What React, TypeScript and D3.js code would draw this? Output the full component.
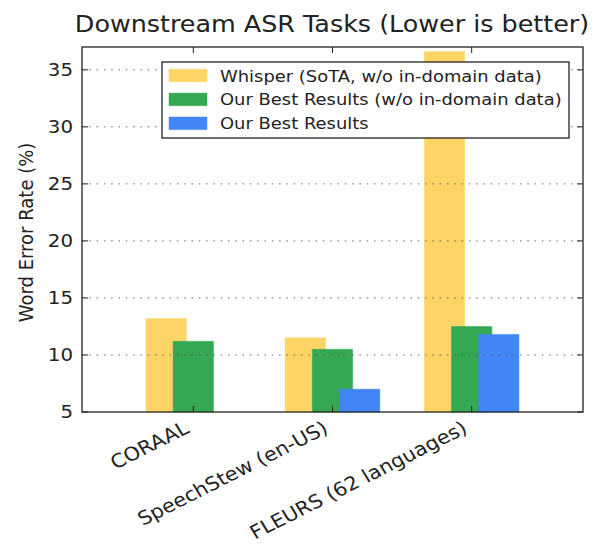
import React from "react";
import * as d3 from "d3";

const categories = ["CORAAL", "SpeechStew (en-US)", "FLEURS (62 languages)"];
const whisperValues = [13.2, 11.5, 36.6];
const bestNoInDomainValues = [11.2, 10.5, 12.5];
const bestValues: (number | null)[] = [null, 7.0, 11.8];
const seriesNames = [
  "Whisper (SoTA, w/o in-domain data)",
  "Our Best Results (w/o in-domain data)",
  "Our Best Results",
];
const seriesColors = ["#FCD566", "#34A853", "#4285F4"];
const yTicks = [5, 10, 15, 20, 25, 30, 35];
const titleText = "Downstream ASR Tasks (Lower is better)";
const yLabelText = "Word Error Rate (%)";

const W = 595;
const H = 547;
const plot = { left: 82, right: 583, top: 47, bottom: 412 };
const SX = 1.1; // horizontal stretch of text
const FONT = "DejaVu Sans, Verdana, sans-serif";

export default function App() {
  const x = d3.scaleLinear().domain([-0.8, 2.8]).range([plot.left, plot.right]);
  const y = d3.scaleLinear().domain([5, 37]).range([plot.bottom, plot.top]);
  const barW = 0.29;
  const offsets = [-0.195, 0, 0.195];
  const series = [whisperValues, bestNoInDomainValues, bestValues];
  const tickLen = 6;

  return (
    <svg width={W} height={H} style={{ position: "absolute", left: 0, top: 0, background: "#fff" }} fontFamily={FONT}>
      <rect x={0} y={0} width={W} height={H} fill="#fff" />
      {/* bars */}
      {series.map((vals, si) =>
        vals.map((v, ci) =>
          v == null ? null : (
            <rect
              key={`b${si}-${ci}`}
              x={x(ci + offsets[si] - barW / 2)}
              y={y(v)}
              width={x(barW) - x(0)}
              height={y(5) - y(v)}
              fill={seriesColors[si]}
              stroke={seriesColors[si]}
              strokeOpacity={0.45}
              strokeWidth={1}
            />
          )
        )
      )}
      {/* grid */}
      {yTicks.filter((t) => t > 5).map((t) => (
        <line
          key={`g${t}`}
          x1={plot.left}
          x2={plot.right}
          y1={y(t)}
          y2={y(t)}
          stroke="#555"
          strokeWidth={0.9}
          strokeDasharray="1.5,5.8"
        />
      ))}
      {/* ticks y */}
      {yTicks.map((t) => (
        <g key={`ty${t}`}>
          <line x1={plot.left} x2={plot.left + tickLen} y1={y(t)} y2={y(t)} stroke="#222" strokeWidth={1} />
          <line x1={plot.right} x2={plot.right - tickLen} y1={y(t)} y2={y(t)} stroke="#222" strokeWidth={1} />
          <text
            transform={`translate(${plot.left - 9},${y(t)}) scale(${SX},1)`}
            textAnchor="end"
            dy="0.36em"
            fontSize={18}
            fill="#222"
          >
            {t}
          </text>
        </g>
      ))}
      {/* ticks x */}
      {categories.map((c, i) => (
        <g key={`tx${i}`}>
          <line x1={x(i)} x2={x(i)} y1={plot.bottom} y2={plot.bottom - tickLen} stroke="#222" strokeWidth={1} />
          <line x1={x(i)} x2={x(i)} y1={plot.top} y2={plot.top + tickLen} stroke="#222" strokeWidth={1} />
          <text
            transform={`translate(${x(i) - 3},${plot.bottom + 20}) scale(${SX},1) rotate(-29)`}
            textAnchor="end"
            fontSize={19}
            fill="#222"
          >
            {c}
          </text>
        </g>
      ))}
      {/* frame */}
      <rect
        x={plot.left}
        y={plot.top}
        width={plot.right - plot.left}
        height={plot.bottom - plot.top}
        fill="none"
        stroke="#222"
        strokeWidth={1.3}
      />
      {/* title */}
      <text
        transform={`translate(${(plot.left + plot.right) / 2 - 0.5},31.5) scale(1.1,1)`}
        textAnchor="middle"
        fontSize={23.1}
        fill="#222"
      >
        {titleText}
      </text>
      {/* y label */}
      <text
        transform={`translate(33,${(plot.top + plot.bottom) / 2 + 3}) scale(${SX},1) rotate(-90)`}
        textAnchor="middle"
        fontSize={18}
        fill="#222"
      >
        {yLabelText}
      </text>
      {/* legend */}
      <g>
        <rect x={162} y={62} width={407} height={76} fill="#fff" stroke="#111" strokeWidth={1.2} />
        {seriesNames.map((n, i) => {
          const cy = 75.5 + i * 23.9;
          return (
            <g key={`l${i}`}>
              <rect
                x={169}
                y={cy - 6.3}
                width={38}
                height={12.6}
                fill={seriesColors[i]}
                stroke={seriesColors[i]}
                strokeOpacity={0.45}
              />
              <text transform={`translate(220,${cy + 6}) scale(${SX},1)`} fontSize={16.3} fill="#222">
                {n}
              </text>
            </g>
          );
        })}
      </g>
    </svg>
  );
}
